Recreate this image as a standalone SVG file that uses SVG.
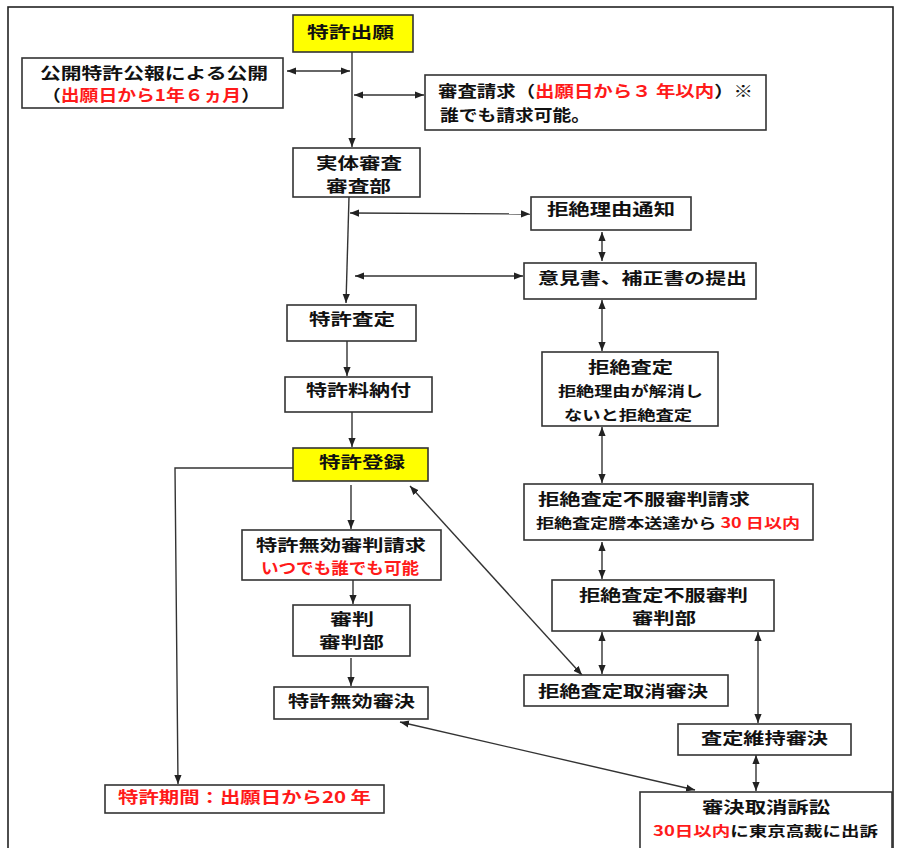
<svg xmlns="http://www.w3.org/2000/svg" width="897" height="848" viewBox="0 0 897 848">
<style>
.box{fill:#fff;stroke:#333;stroke-width:1.6}
.yel{fill:#ffff00;stroke:#333;stroke-width:1.6}
text{font-family:"Noto Sans CJK JP","Noto Sans CJK SC",sans-serif;font-size:16px;font-weight:bold;fill:#111}
.s{font-size:14px}
.r{fill:#ff1a1a}
.c{fill:none;stroke:#333;stroke-width:1.4}
</style>
<defs>
<marker id="ah" viewBox="0 0 10 10" refX="10" refY="5" markerWidth="9" markerHeight="9" markerUnits="userSpaceOnUse" orient="auto-start-reverse">
<path d="M0,1 L10,5 L0,9 z" fill="#222"/>
</marker>
</defs>
<rect x="0" y="0" width="897" height="848" fill="#fff"/>
<rect x="8" y="7" width="885" height="870" fill="none" stroke="#222" stroke-width="1.6"/>

<g id="connectors">
<line class="c" x1="352" y1="52" x2="352" y2="147" marker-end="url(#ah)"/>
<line class="c" x1="287" y1="71" x2="350" y2="71" marker-start="url(#ah)" marker-end="url(#ah)"/>
<line class="c" x1="354" y1="95" x2="424" y2="95" marker-start="url(#ah)" marker-end="url(#ah)"/>
<line class="c" x1="349" y1="197" x2="346" y2="303" marker-end="url(#ah)"/>
<line class="c" x1="350" y1="213" x2="530" y2="214" marker-start="url(#ah)" marker-end="url(#ah)"/>
<line class="c" x1="355" y1="276" x2="523" y2="276" marker-start="url(#ah)" marker-end="url(#ah)"/>
<line class="c" x1="602" y1="232" x2="602" y2="261" marker-start="url(#ah)" marker-end="url(#ah)"/>
<line class="c" x1="602" y1="300" x2="602" y2="351" marker-start="url(#ah)" marker-end="url(#ah)"/>
<line class="c" x1="347" y1="341" x2="347" y2="376" marker-end="url(#ah)"/>
<line class="c" x1="352" y1="412" x2="352" y2="447" marker-end="url(#ah)"/>
<line class="c" x1="602" y1="427" x2="602" y2="483" marker-start="url(#ah)" marker-end="url(#ah)"/>
<line class="c" x1="351" y1="485" x2="351" y2="529" marker-end="url(#ah)"/>
<polyline class="c" points="293,468 175,468 178,784" marker-end="url(#ah)"/>
<line class="c" x1="602" y1="542" x2="602" y2="579" marker-start="url(#ah)" marker-end="url(#ah)"/>
<line class="c" x1="353" y1="580" x2="353" y2="604" marker-end="url(#ah)"/>
<line class="c" x1="351" y1="658" x2="351" y2="686" marker-end="url(#ah)"/>
<line class="c" x1="410" y1="486" x2="582" y2="675" marker-start="url(#ah)" marker-end="url(#ah)"/>
<line class="c" x1="602" y1="632" x2="602" y2="674" marker-start="url(#ah)" marker-end="url(#ah)"/>
<line class="c" x1="758" y1="632" x2="758" y2="723" marker-start="url(#ah)" marker-end="url(#ah)"/>
<line class="c" x1="756" y1="755" x2="756" y2="791" marker-start="url(#ah)" marker-end="url(#ah)"/>
<line class="c" x1="400" y1="722" x2="695" y2="790" marker-start="url(#ah)" marker-end="url(#ah)"/>
</g>

<g id="n1"><rect class="yel" x="293" y="15" width="120" height="37"/>
<text x="307" y="38" textLength="87" lengthAdjust="spacingAndGlyphs">特許出願</text></g>

<g id="n2"><rect class="box" x="22" y="58" width="261" height="50"/>
<text x="40" y="79" textLength="228" lengthAdjust="spacingAndGlyphs">公開特許公報による公開</text>
<text x="42" y="101" textLength="218" lengthAdjust="spacingAndGlyphs">（<tspan class="r">出願日から1年６ヵ月</tspan>）</text></g>

<g id="n3"><rect class="box" x="425" y="75" width="341" height="55"/>
<text x="438" y="97" textLength="315" lengthAdjust="spacingAndGlyphs">審査請求（<tspan class="r">出願日から３ 年以内</tspan>）※</text>
<text x="440" y="121" textLength="150" lengthAdjust="spacingAndGlyphs">誰でも請求可能。</text></g>

<g id="n4"><rect class="box" x="293" y="148" width="127" height="49"/>
<text x="316" y="169" textLength="86" lengthAdjust="spacingAndGlyphs">実体審査</text>
<text x="326" y="192" textLength="65" lengthAdjust="spacingAndGlyphs">審査部</text></g>

<g id="n5"><rect class="box" x="531" y="197" width="160" height="33"/>
<text x="547" y="215" textLength="128" lengthAdjust="spacingAndGlyphs">拒絶理由通知</text></g>

<g id="n6"><rect class="box" x="524" y="263" width="232" height="36"/>
<text x="538" y="284" textLength="209" lengthAdjust="spacingAndGlyphs">意見書、補正書の提出</text></g>

<g id="n7"><rect class="box" x="287" y="305" width="129" height="36"/>
<text x="309" y="325" textLength="86" lengthAdjust="spacingAndGlyphs">特許査定</text></g>

<g id="n8"><rect class="box" x="285" y="377" width="147" height="35"/>
<text x="306" y="396" textLength="105" lengthAdjust="spacingAndGlyphs">特許料納付</text></g>

<g id="n9"><rect class="box" x="542" y="352" width="176" height="74"/>
<text x="588" y="373" textLength="85" lengthAdjust="spacingAndGlyphs">拒絶査定</text>
<text class="s" x="558" y="396" textLength="145" lengthAdjust="spacingAndGlyphs">拒絶理由が解消し</text>
<text class="s" x="564" y="420" textLength="128" lengthAdjust="spacingAndGlyphs">ないと拒絶査定</text></g>

<g id="n10"><rect class="yel" x="293" y="448" width="135" height="33"/>
<text x="319" y="468" textLength="86" lengthAdjust="spacingAndGlyphs">特許登録</text></g>

<g id="n11"><rect class="box" x="524" y="484" width="289" height="56"/>
<text x="538" y="505" textLength="212" lengthAdjust="spacingAndGlyphs">拒絶査定不服審判請求</text>
<text class="s" x="536" y="528" textLength="264" lengthAdjust="spacingAndGlyphs">拒絶査定謄本送達から <tspan class="r">30 日以内</tspan></text></g>

<g id="n12"><rect class="box" x="242" y="530" width="199" height="50"/>
<text x="256" y="551" textLength="170" lengthAdjust="spacingAndGlyphs">特許無効審判請求</text>
<text x="261" y="574" textLength="158" lengthAdjust="spacingAndGlyphs" class="r">いつでも誰でも可能</text></g>

<g id="n13"><rect class="box" x="552" y="580" width="222" height="51"/>
<text x="579" y="601" textLength="169" lengthAdjust="spacingAndGlyphs">拒絶査定不服審判</text>
<text x="632" y="624" textLength="64" lengthAdjust="spacingAndGlyphs">審判部</text></g>

<g id="n14"><rect class="box" x="293" y="605" width="117" height="51"/>
<text x="330" y="625" textLength="44" lengthAdjust="spacingAndGlyphs">審判</text>
<text x="319" y="648" textLength="65" lengthAdjust="spacingAndGlyphs">審判部</text></g>

<g id="n15"><rect class="box" x="274" y="687" width="154" height="32"/>
<text x="288" y="707" textLength="127" lengthAdjust="spacingAndGlyphs">特許無効審決</text></g>

<g id="n16"><rect class="box" x="524" y="675" width="204" height="31"/>
<text x="538" y="697" textLength="170" lengthAdjust="spacingAndGlyphs">拒絶査定取消審決</text></g>

<g id="n17"><rect class="box" x="678" y="724" width="173" height="31"/>
<text x="701" y="744" textLength="127" lengthAdjust="spacingAndGlyphs">査定維持審決</text></g>

<g id="n18"><rect class="box" x="105" y="785" width="279" height="28"/>
<text x="118" y="803" textLength="253" lengthAdjust="spacingAndGlyphs" class="r">特許期間：出願日から20 年</text></g>

<g id="n19"><rect class="box" x="640" y="792" width="252" height="60"/>
<text x="702" y="813" textLength="128" lengthAdjust="spacingAndGlyphs">審決取消訴訟</text>
<text class="s" x="653" y="836" textLength="225" lengthAdjust="spacingAndGlyphs"><tspan class="r">30日以内</tspan>に東京高裁に出訴</text></g>
</svg>
